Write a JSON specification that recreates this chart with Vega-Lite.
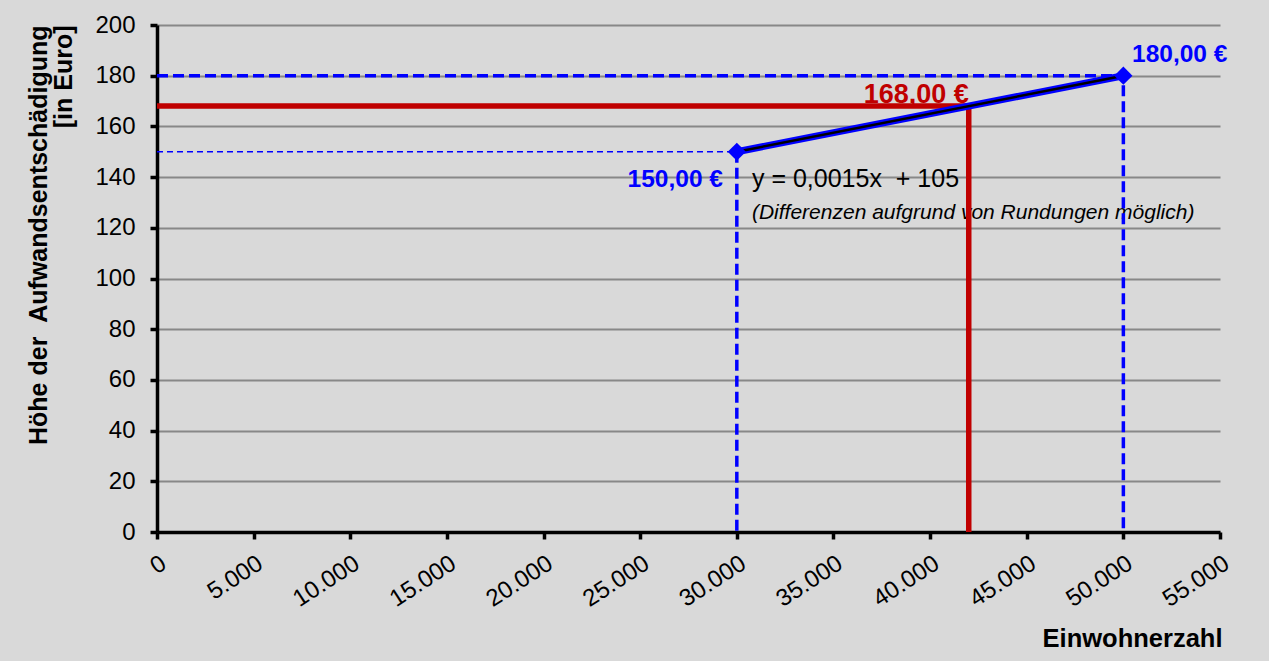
{
  "$schema": "https://vega.github.io/schema/vega-lite/v6.json",
  "width": 1063,
  "height": 507,
  "autosize": {"type": "none"},
  "padding": {"left": 157, "top": 25, "right": 49, "bottom": 129},
  "background": "#d9d9d9",
  "config": {"view": {"stroke": null}, "font": "Liberation Sans"},
  "datasets": {
    "lines": [
      {"grp": "red", "i": 0, "x": 0, "y": 168},
      {"grp": "red", "i": 1, "x": 42000, "y": 168},
      {"grp": "red", "i": 2, "x": 42000, "y": 0},
      {"grp": "b180", "i": 0, "x": 0, "y": 180},
      {"grp": "b180", "i": 1, "x": 50000, "y": 180},
      {"grp": "b180", "i": 2, "x": 50000, "y": 0},
      {"grp": "b30v", "i": 0, "x": 30000, "y": 150},
      {"grp": "b30v", "i": 1, "x": 30000, "y": 0},
      {"grp": "b150h", "i": 0, "x": 0, "y": 150},
      {"grp": "b150h", "i": 1, "x": 30000, "y": 150},
      {"grp": "main", "i": 0, "x": 30000, "y": 150},
      {"grp": "main", "i": 1, "x": 50000, "y": 180}
    ],
    "labels": [
      {"kind": "red", "text": "168,00 €", "x": 42000, "y": 169.3},
      {"kind": "blueL", "text": "180,00 €", "x": 50450, "y": 185.4},
      {"kind": "blueR", "text": "150,00 €", "x": 29282, "y": 136.2},
      {"kind": "eq", "text": "y = 0,0015x \u00a0+ 105", "x": 30783, "y": 136.2},
      {"kind": "note", "text": "(Differenzen aufgrund von Rundungen möglich)", "x": 30783, "y": 123.4}
    ]
  },
  "layer": [
    {
      "data": {"name": "labels"},
      "transform": [{"filter": "datum.kind === 'eq'"}],
      "mark": {"type": "text", "color": "#000000", "fontSize": 25, "align": "left", "baseline": "alphabetic"},
      "encoding": {
        "x": {
          "field": "x", "type": "quantitative",
          "scale": {"domain": [0, 55000], "nice": false, "zero": true},
          "axis": {
            "title": "Einwohnerzahl",
            "values": [0, 5000, 10000, 15000, 20000, 25000, 30000, 35000, 40000, 45000, 50000, 55000],
            "labelExpr": "replace(format(datum.value, ',d'), ',', '.')",
            "labelAngle": -33, "labelAlign": "right", "labelBaseline": "top",
            "labelFontSize": 24, "labelColor": "#000000", "labelPadding": 12,
            "labelOverlap": false, "labelFlush": false,
            "domainColor": "#000000", "domainWidth": 3.5,
            "tickColor": "#000000", "tickWidth": 3.5, "tickSize": 7,
            "grid": false,
            "titleFontSize": 25.5, "titleFontWeight": "bold", "titleColor": "#000000",
            "titleAnchor": "end", "titleAlign": "right", "titleBaseline": "alphabetic",
            "titleX": 1065, "titleY": 114
          }
        },
        "y": {
          "field": "y", "type": "quantitative",
          "scale": {"domain": [0, 200], "nice": false},
          "axis": {
            "title": ["Höhe der \u00a0Aufwandsentschädigung", "[in Euro]"],
            "values": [0, 20, 40, 60, 80, 100, 120, 140, 160, 180, 200],
            "labelFontSize": 24, "labelColor": "#000000", "labelPadding": 15,
            "domainColor": "#000000", "domainWidth": 3.5,
            "tickColor": "#000000", "tickWidth": 3.5, "tickSize": 7,
            "grid": true, "gridColor": "#888888", "gridWidth": 2,
            "titleFontSize": 25, "titleFontWeight": "bold", "titleColor": "#000000",
            "titleAnchor": "end", "titleAlign": "right", "titleBaseline": "top",
            "titleAngle": -90, "titleLineHeight": 25,
            "titleX": -131, "titleY": 0
          }
        },
        "text": {"field": "text"}
      }
    },
    {
      "data": {"name": "labels"},
      "transform": [{"filter": "datum.kind === 'note'"}],
      "mark": {"type": "text", "color": "#000000", "fontSize": 21, "fontStyle": "italic", "align": "left", "baseline": "alphabetic"},
      "encoding": {
        "x": {"field": "x", "type": "quantitative"},
        "y": {"field": "y", "type": "quantitative"},
        "text": {"field": "text"}
      }
    },
    {
      "data": {"name": "lines"},
      "transform": [{"filter": "datum.grp === 'red'"}],
      "mark": {"type": "line", "color": "#c00000", "strokeWidth": 5.5},
      "encoding": {
        "x": {"field": "x", "type": "quantitative"},
        "y": {"field": "y", "type": "quantitative"},
        "order": {"field": "i"}
      }
    },
    {
      "data": {"name": "lines"},
      "transform": [{"filter": "datum.grp === 'b180' || datum.grp === 'b30v'"}],
      "mark": {"type": "line", "color": "#0000ff", "strokeWidth": 3.5, "strokeDash": [11, 5]},
      "encoding": {
        "x": {"field": "x", "type": "quantitative"},
        "y": {"field": "y", "type": "quantitative"},
        "order": {"field": "i"},
        "detail": {"field": "grp"}
      }
    },
    {
      "data": {"name": "lines"},
      "transform": [{"filter": "datum.grp === 'b150h'"}],
      "mark": {"type": "line", "color": "#0000ff", "strokeWidth": 1.7, "strokeDash": [6, 4]},
      "encoding": {
        "x": {"field": "x", "type": "quantitative"},
        "y": {"field": "y", "type": "quantitative"},
        "order": {"field": "i"}
      }
    },
    {
      "data": {"name": "lines"},
      "transform": [{"filter": "datum.grp === 'main'"}],
      "mark": {"type": "line", "color": "#0000ff", "strokeWidth": 7},
      "encoding": {
        "x": {"field": "x", "type": "quantitative"},
        "y": {"field": "y", "type": "quantitative"},
        "order": {"field": "i"}
      }
    },
    {
      "data": {"name": "lines"},
      "transform": [{"filter": "datum.grp === 'main'"}],
      "mark": {"type": "line", "color": "#000000", "strokeWidth": 2.5},
      "encoding": {
        "x": {"field": "x", "type": "quantitative"},
        "y": {"field": "y", "type": "quantitative"},
        "order": {"field": "i"}
      }
    },
    {
      "data": {"name": "lines"},
      "transform": [{"filter": "datum.grp === 'main'"}],
      "mark": {"type": "point", "shape": "diamond", "filled": true, "color": "#0000ff", "size": 330, "opacity": 1},
      "encoding": {
        "x": {"field": "x", "type": "quantitative"},
        "y": {"field": "y", "type": "quantitative"}
      }
    },
    {
      "data": {"name": "labels"},
      "transform": [{"filter": "datum.kind === 'red'"}],
      "mark": {"type": "text", "color": "#c00000", "fontSize": 27, "fontWeight": "bold", "align": "right", "baseline": "alphabetic"},
      "encoding": {
        "x": {"field": "x", "type": "quantitative"},
        "y": {"field": "y", "type": "quantitative"},
        "text": {"field": "text"}
      }
    },
    {
      "data": {"name": "labels"},
      "transform": [{"filter": "datum.kind === 'blueL'"}],
      "mark": {"type": "text", "color": "#0000ff", "fontSize": 24.5, "fontWeight": "bold", "align": "left", "baseline": "alphabetic"},
      "encoding": {
        "x": {"field": "x", "type": "quantitative"},
        "y": {"field": "y", "type": "quantitative"},
        "text": {"field": "text"}
      }
    },
    {
      "data": {"name": "labels"},
      "transform": [{"filter": "datum.kind === 'blueR'"}],
      "mark": {"type": "text", "color": "#0000ff", "fontSize": 24.5, "fontWeight": "bold", "align": "right", "baseline": "alphabetic"},
      "encoding": {
        "x": {"field": "x", "type": "quantitative"},
        "y": {"field": "y", "type": "quantitative"},
        "text": {"field": "text"}
      }
    }
  ]
}
